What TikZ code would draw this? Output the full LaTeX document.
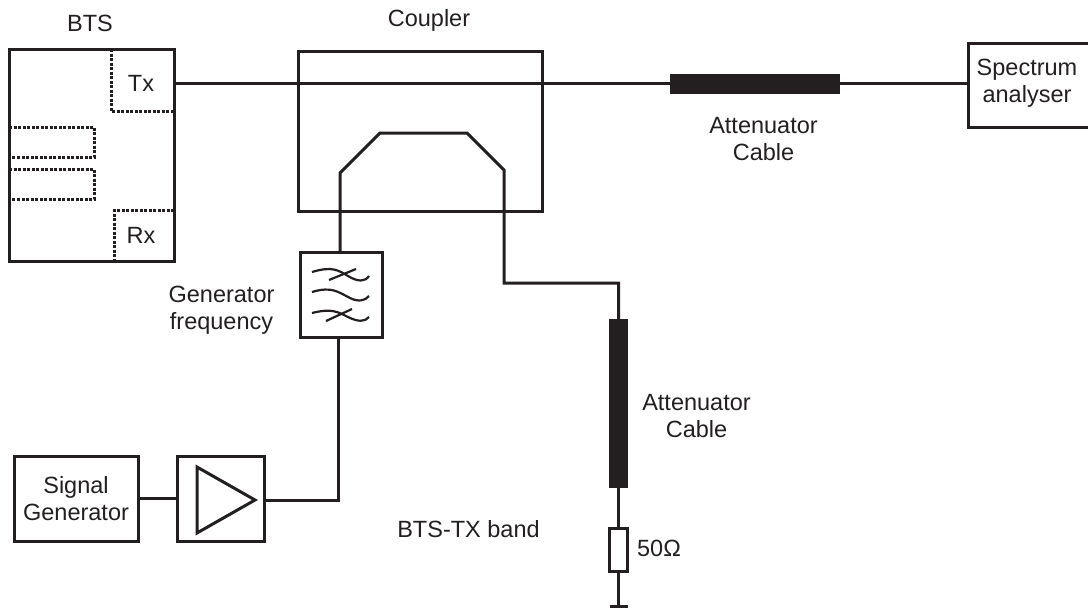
\documentclass[tikz,border=0pt]{standalone}
\usepackage{fontspec}
\setmainfont{Liberation Sans}
\definecolor{ink}{RGB}{35,31,32}
\newcommand{\lblfont}{\fontsize{23.5}{27.5}\selectfont}
\tikzset{
  wire/.style={line width=3pt,draw=ink,line join=miter},
  box/.style={line width=3pt,draw=ink,fill=white,inner sep=0pt,outer sep=0pt,anchor=north west,align=center},
  dots/.style={line width=3pt,draw=ink,dash pattern=on 3pt off 1.5pt},
  blockbar/.style={fill=ink,draw=none,inner sep=0pt,outer sep=0pt,anchor=north west},
  lbl/.style={inner sep=0pt,align=center,font=\lblfont,text=ink},
  fwave/.style={line width=2.2pt,draw=ink}
}
\begin{document}
\begin{tikzpicture}[x=1pt,y=-1pt]
\useasboundingbox (0,0) rectangle (1088,608);
% boxes
\node[box,minimum width=165pt,minimum height=212pt] (bts) at (9,49) {};
\node[box,minimum width=244pt,minimum height=160pt] (coupler) at (298,51) {};
\node[box,minimum width=126pt,minimum height=84pt] (spec) at (968,43) {};
\node[box,minimum width=82pt,minimum height=85pt] (filter) at (300,252) {};
\node[box,minimum width=124pt,minimum height=85pt,font=\lblfont,text=ink] (sig) at (14,456) {Signal\\Generator};
\node[box,minimum width=87pt,minimum height=85pt] (amp) at (177,456) {};
\node[blockbar,minimum width=170pt,minimum height=20pt] (att1) at (670,73.5) {};
\node[blockbar,minimum width=19pt,minimum height=169pt] (att2) at (609,319) {};
\node[box,minimum width=18pt,minimum height=43pt] (res) at (609.5,528) {};
% BTS internals
\draw[dots] (111,49) -- (111,111) -- (174,111);
\draw[dots] (9,127) -- (94,127) -- (94,157) -- (9,157);
\draw[dots] (9,169) -- (94,169) -- (94,199) -- (9,199);
\draw[dots] (174,210) -- (114.5,210) -- (114.5,261);
% through line
\coordinate (thru) at (att1.west);
\draw[wire] (bts.east |- thru) -- (att1.west);
\draw[wire] (att1.east) -- (spec.west |- att1.east);
% coupled line
\coordinate (cpA) at (340,173);
\coordinate (cpB) at (380,133);
\coordinate (cpC) at (467,133);
\coordinate (cpD) at (504,170);
\coordinate (cpE) at (504,283);
\coordinate (cpF) at (618.5,283);
\draw[wire] (filter.north -| cpA) -- (cpA) -- (cpB) -- (cpC) -- (cpD) -- (cpE) -- (cpF) -- (att2.north -| cpF);
% lower chain
\draw[wire] (att2.south) -- (res.north);
\coordinate (gnd) at (618.5,606);
\draw[wire] (res.south) -- (gnd);
\fill[ink] (610,605) rectangle (628,608);
\coordinate (ampcorner) at (338.5,500);
\draw[wire] (filter.south -| ampcorner) -- (ampcorner) -- (amp.east |- ampcorner);
\draw[wire] (sig.east) -- (amp.west);
% amp triangle
\draw[wire] (197,467) -- (255,500) -- (197,533) -- cycle;
% filter waves
\draw[fwave] (312,272) .. controls (332,266) and (338,270) .. (348,276) .. controls (358,282) and (365,282) .. (369,276);
\draw[fwave] (329,280) -- (356,269);
\draw[fwave] (312,292) .. controls (332,286) and (338,292) .. (350,298) .. controls (358,302) and (365,301) .. (369,296);
\draw[fwave] (312,313) .. controls (332,308) and (338,312) .. (348,317) .. controls (358,322) and (365,322) .. (369,317);
\draw[fwave] (326,321) -- (352,309);
% labels
\node[lbl] (tspec) at (1027,83) {Spectrum\\analyser};
\node[lbl] (tbts) at (90,23) {BTS};
\node[lbl] (tcoup) at (429,20) {Coupler};
\node[lbl] (ttx) at (141,83) {Tx};
\node[lbl] (trx) at (141,235) {Rx};
\node[lbl] (tatt1) at (763.5,139) {Attenuator\\Cable};
\node[lbl] (tatt2) at (696.5,416) {Attenuator\\Cable};
\node[lbl] (tgen) at (221.5,310) {Generator\\frequency};
\node[lbl] (tband) at (468.5,529) {BTS-TX band};
\node[lbl] (tohm) at (659,548) {50Ω};
\end{tikzpicture}
\end{document}
